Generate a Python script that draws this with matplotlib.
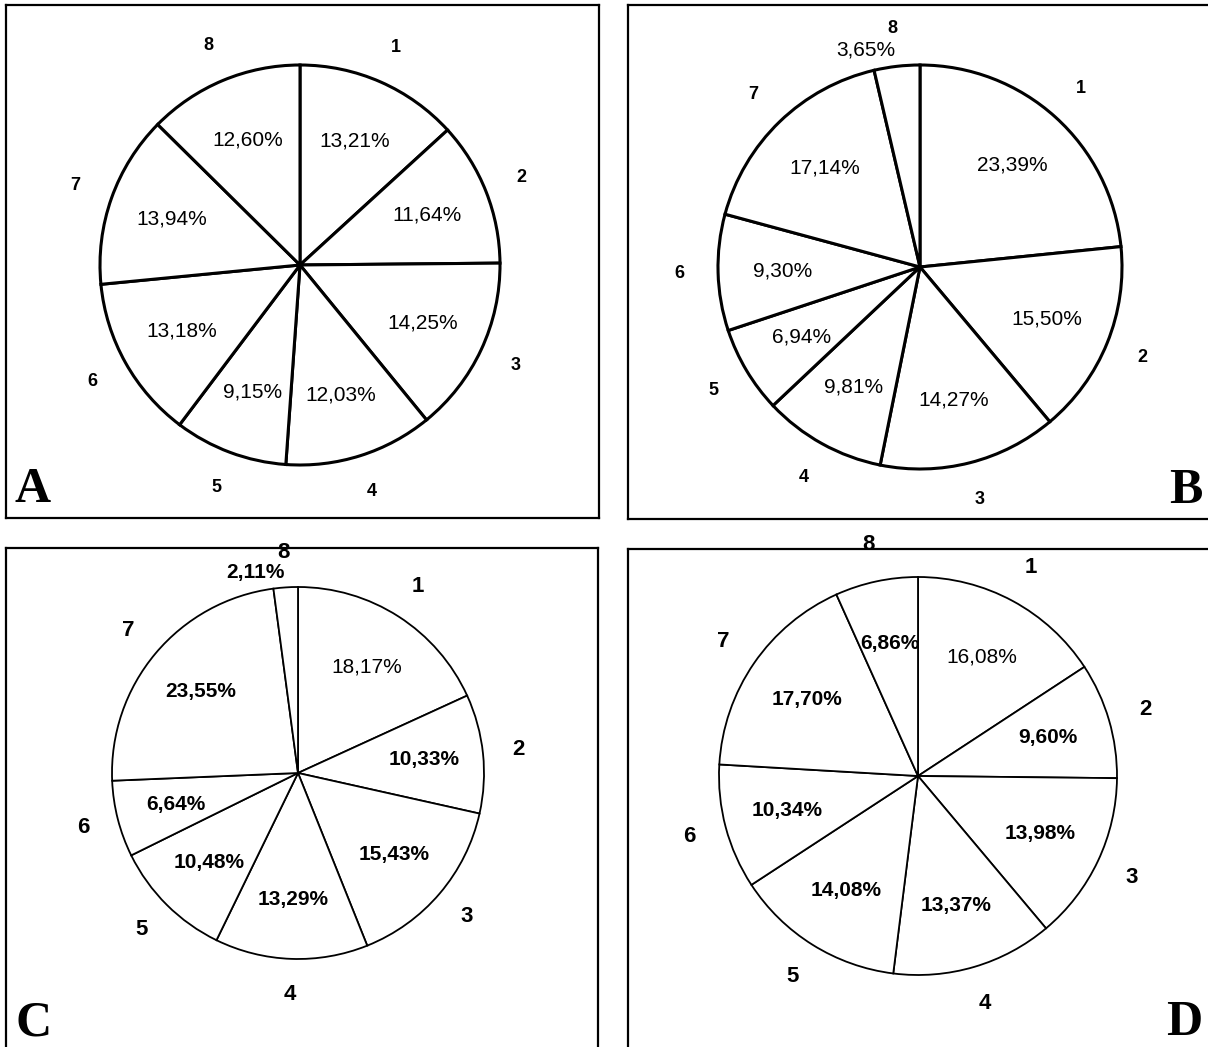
import numpy as np
import matplotlib.pyplot as plt

# --------- DATA ---------
slice_names = ["1", "2", "3", "4", "5", "6", "7", "8"]

pct_a = [13.21, 11.64, 14.25, 12.03, 9.15, 13.18, 13.94, 12.60]
pct_b = [23.39, 15.50, 14.27, 9.81, 6.94, 9.30, 17.14, 3.65]
pct_c = [18.17, 10.33, 15.43, 13.29, 10.48, 6.64, 23.55, 2.11]
pct_d = [16.08, 9.60, 13.98, 13.37, 14.08, 10.34, 17.70, 6.86]

panel_letters = ["A", "B", "C", "D"]

# --------- LAYOUT (pixels) ---------
W, H = 1208, 1047
# box (left, top, right, bottom), pie centre, radius, letter anchor
panels = [
    dict(data=pct_a, box=(6, 5, 599, 518), c=(300, 265), r=200, lw=2.2, font="Liberation Sans",
         bold=[], num_size=13, letter_xy=(15, 513), letter_ha="left"),
    dict(data=pct_b, box=(628, 5, 1215, 519), c=(920, 267), r=202, lw=2.2, font="Liberation Sans",
         bold=[], num_size=13, letter_xy=(1202, 514), letter_ha="right"),
    dict(data=pct_c, box=(6, 548, 598, 1060), c=(298, 773), r=186, lw=1.3, font="Liberation Sans Narrow",
         bold=[1, 2, 3, 4, 5, 6, 7], num_size=16, letter_xy=(15, 1046), letter_ha="left"),
    dict(data=pct_d, box=(628, 549, 1215, 1060), c=(918, 776), r=199, lw=1.3, font="Liberation Sans Narrow",
         bold=[1, 2, 3, 4, 5, 6, 7], num_size=16, letter_xy=(1202, 1046), letter_ha="right"),
]

fig = plt.figure(figsize=(W / 100, H / 100), dpi=100)

for p, letter in zip(panels, panel_letters):
    left, top, right, bottom = p["box"]
    cx, cy = p["c"]
    r = p["r"]
    ax = fig.add_axes([left / W, 1 - bottom / H, (right - left) / W, (bottom - top) / H])

    wedges, _ = ax.pie(p["data"], radius=r, center=(0, 0), startangle=90, counterclock=False,
                       colors=["white"] * len(p["data"]), frame=True,
                       wedgeprops=dict(edgecolor="black", linewidth=p["lw"]))
    ax.set_aspect("auto")
    ax.set_xlim(left - cx, right - cx)
    ax.set_ylim(cy - bottom, cy - top)
    ax.set_xticks([])
    ax.set_yticks([])
    for s in ax.spines.values():
        s.set_linewidth(1.6)

    fam = [p["font"], "Liberation Sans", "DejaVu Sans"]
    for i, (w, val) in enumerate(zip(wedges, p["data"])):
        mid = np.deg2rad((w.theta1 + w.theta2) / 2)
        ux, uy = np.cos(mid), np.sin(mid)
        txt = f"{val:.2f}%".replace(".", ",")
        weight = "bold" if i in p["bold"] else "normal"
        if val < 5:
            # small slice: percentage sits outside, left of the slice number
            ax.text(ux * r * 1.08, uy * r * 1.08, txt, ha="right", va="center",
                    fontsize=15, family=fam, fontweight=weight)
        else:
            ax.text(ux * r * 0.68, uy * r * 0.68, txt, ha="center", va="center",
                    fontsize=15, family=fam, fontweight=weight)
        ax.text(ux * r * 1.19, uy * r * 1.19, slice_names[i], ha="center", va="center",
                fontsize=p["num_size"], family=fam, fontweight="bold")

    # panel letter
    lx, ly = p["letter_xy"]
    fig.text(lx / W, 1 - ly / H, letter, ha=p["letter_ha"], va="bottom",
             fontsize=36, family="Liberation Serif", fontweight="bold")

fig.savefig("out.png", dpi=100, facecolor="white")
